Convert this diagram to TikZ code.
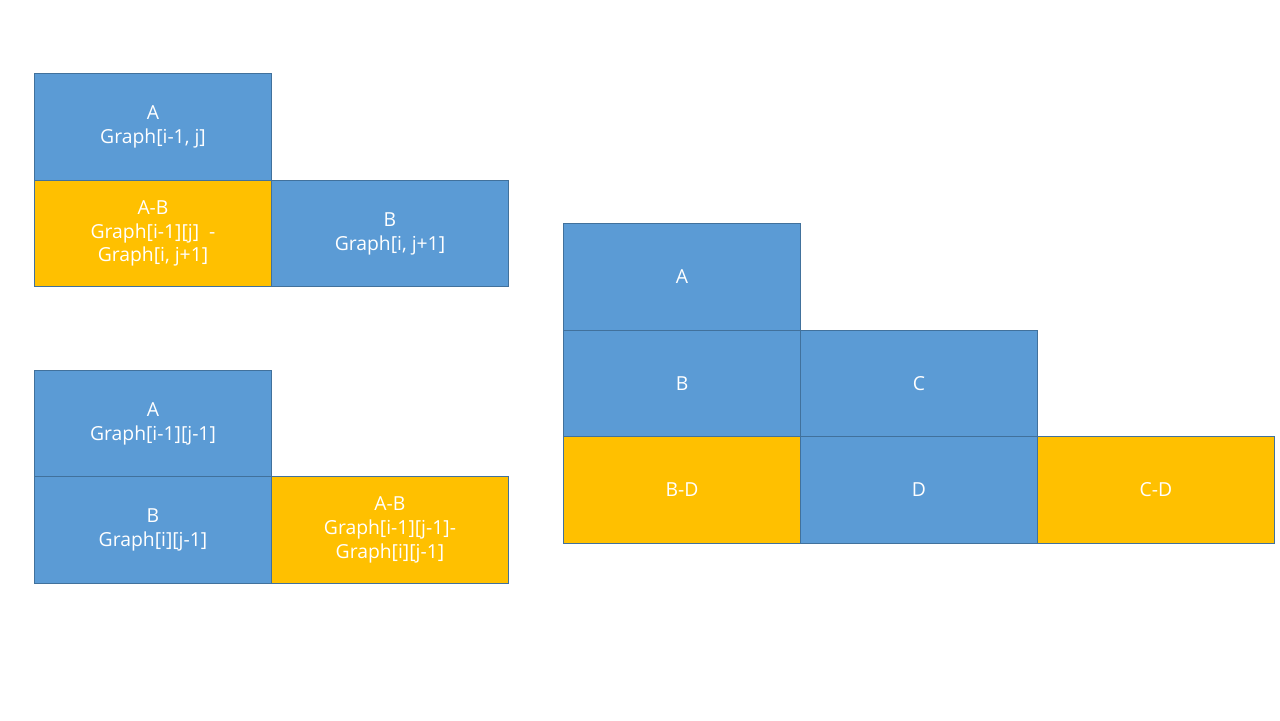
\documentclass[tikz,border=0pt]{standalone}
\usepackage{fontspec}
\setmainfont{Open Sans}
\usetikzlibrary{positioning}
\definecolor{cellblue}{HTML}{5B9BD5}
\definecolor{cellgold}{HTML}{FFC000}
\definecolor{celledge}{HTML}{41719C}
\begin{document}
\begin{tikzpicture}[x=0.02cm,y=-0.02cm,node distance=0pt,
cell/.style={rectangle,draw=celledge,line width=0.6pt,outer sep=0pt,inner sep=0pt,minimum width=4.74cm,minimum height=2.13cm,align=center,text=white,font=\fontsize{11}{13.6}\selectfont},
blue cell/.style={cell,fill=cellblue},
gold cell/.style={cell,fill=cellgold}]
\useasboundingbox (0,0) rectangle (1280,720);
% top left
  \node[blue cell] (tA) at (153,127) {A\\Graph[i-1, j]};
  \node[gold cell] (tAB) [below = of tA] {A-B\\Graph[i-1][j]~~-\\Graph[i, j+1]};
  \node[blue cell] (tB) [right = of tAB] {B\\Graph[i, j+1]};
% bottom left
  \node[blue cell] (bA) at (153,423.5) {A\\Graph[i-1][j-1]};
  \node[blue cell] (bB) [below = of bA] {B\\Graph[i][j-1]};
  \node[gold cell] (bAB) [right = of bB] {A-B\\Graph[i-1][j-1]-\\Graph[i][j-1]};
% right
  \node[blue cell] (rA) at (682,277) {A};
  \node[blue cell] (rB) [below = of rA] {B};
  \node[blue cell] (rC) [right = of rB] {C};
  \node[gold cell] (rBD) [below = of rB] {B-D};
  \node[blue cell] (rD) [right = of rBD] {D};
  \node[gold cell] (rCD) [right = of rD] {C-D};
\end{tikzpicture}
\end{document}
